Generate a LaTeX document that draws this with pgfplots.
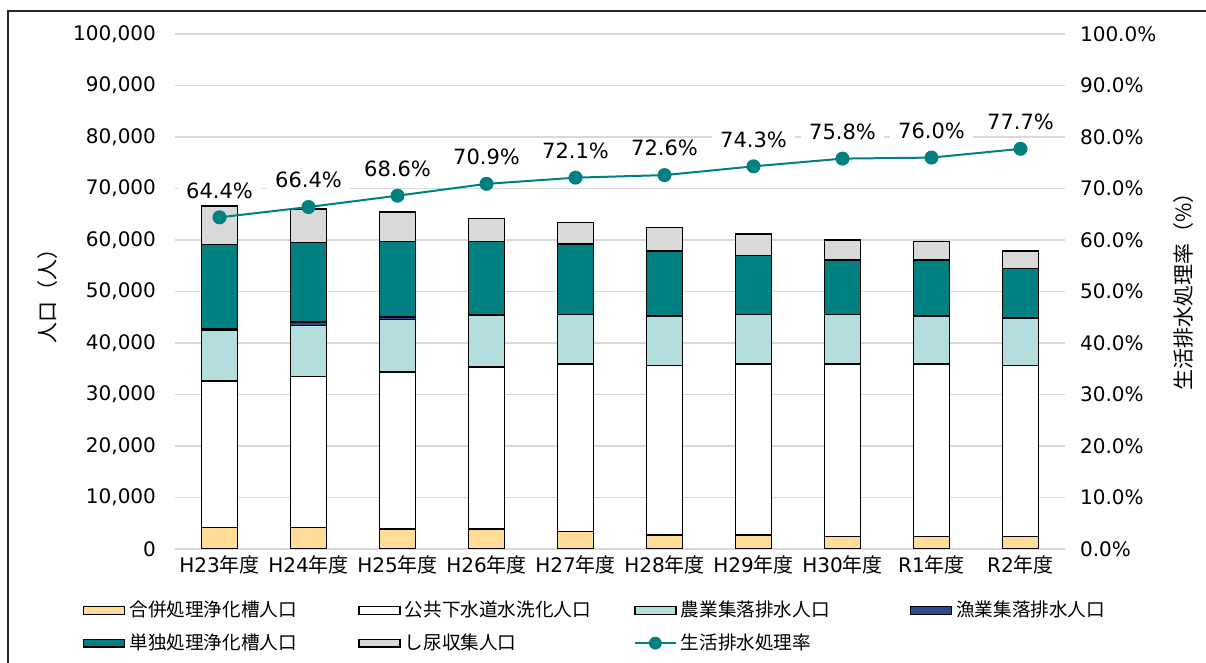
\documentclass[border=0pt]{standalone}
\usepackage{pgfplots}
\usepackage{pgfplotstable}
\pgfplotsset{compat=1.18}
\usepackage{fontspec}
\setmainfont{DejaVu Sans}
\newfontfamily\jp{Noto Sans CJK JP}
\definecolor{cGappei}{HTML}{FFDD99}
\definecolor{cNogyo}{HTML}{B4DEDD}
\definecolor{cGyogyo}{HTML}{2E4A8E}
\definecolor{cTandoku}{HTML}{008080}
\definecolor{cShinyo}{HTML}{D9D9D9}
\definecolor{cGrid}{HTML}{D9D9D9}
\pgfplotstableread{
x gappei kokyo nogyo gyogyo tandoku shinyo rate
0 4200 28400 9900 350 16300 7400 64.4
1 4200 29300 9900 700 15400 6500 66.4
2 3900 30500 10200 400 14700 5700 68.6
3 3900 31400 10100 0 14300 4500 70.9
4 3400 32500 9600 0 13700 4200 72.1
5 2700 32900 9600 0 12700 4500 72.6
6 2700 33200 9600 0 11500 4200 74.3
7 2400 33500 9600 0 10600 3900 75.8
8 2400 33500 9300 0 10900 3600 76.0
9 2400 33200 9300 0 9600 3400 77.7
}\datatable
\pgfplotsset{
  mybar/.style={fill=#1, draw=black, line width=0.8pt,
    legend image code/.code={\draw[fill=#1, draw=black, line width=0.7pt] (0pt,-1.9pt) rectangle (20.5pt,1.9pt);}},
}
\begin{document}
\begin{tikzpicture}
\useasboundingbox (-87.5pt,-57pt) rectangle (515.5pt,274.5pt);
\draw[black!85, line width=0.7pt] (-83.5pt,-70pt) -- (-83.5pt,269pt) -- (530pt,269pt);
\begin{axis}[
  at={(0pt,0pt)}, anchor=south west, scale only axis,
  width=445pt, height=257.5pt,
  xmin=-0.5, xmax=9.5, ymin=0, ymax=100000,
  ybar stacked, bar width=18pt,
  axis line style={draw=none}, tick style={draw=none},
  scaled y ticks=false,
  ytick={0,10000,20000,30000,40000,50000,60000,70000,80000,90000,100000}, ytick pos=left,
  yticklabels={0,{10,000},{20,000},{30,000},{40,000},{50,000},{60,000},{70,000},{80,000},{90,000},{100,000}},
  xtick={0,...,9}, xtick pos=bottom,
  xticklabels={H23{\jp 年度},H24{\jp 年度},H25{\jp 年度},H26{\jp 年度},H27{\jp 年度},H28{\jp 年度},H29{\jp 年度},H30{\jp 年度},R1{\jp 年度},R2{\jp 年度}},
  tick label style={font=\fontsize{10}{12}\selectfont},
  yticklabel style={xshift=-6pt},
  ymajorgrids, grid style={draw=cGrid, line width=0.75pt},
  ylabel={\jp 人口（人）},
  ylabel style={at={(axis description cs:-0.1427,0.5)}, anchor=center, font=\fontsize{10.5}{12}\selectfont},
  legend columns=4,
  legend cell align=left,
  legend style={at={(axis description cs:-0.1105,-0.085)}, anchor=north west, draw=none, fill=none,
    font=\fontsize{9.3}{11}\selectfont\jp, row sep=3pt,
    /tikz/every even column/.append style={column sep=0pt}},
]
\addplot[mybar=cGappei] table[x=x,y=gappei]{\datatable};
\addlegendentry{\makebox[112.5pt][l]{合併処理浄化槽人口}}
\addplot[mybar=white] table[x=x,y=kokyo]{\datatable};
\addlegendentry{\makebox[112.5pt][l]{公共下水道水洗化人口}}
\addplot[mybar=cNogyo] table[x=x,y=nogyo]{\datatable};
\addlegendentry{\makebox[112.5pt][l]{農業集落排水人口}}
\addplot[mybar=cGyogyo] table[x=x,y=gyogyo]{\datatable};
\addlegendentry{\makebox[112.5pt][l]{漁業集落排水人口}}
\addplot[mybar=cTandoku] table[x=x,y=tandoku]{\datatable};
\addlegendentry{\makebox[112.5pt][l]{単独処理浄化槽人口}}
\addplot[mybar=cShinyo] table[x=x,y=shinyo]{\datatable};
\addlegendentry{\makebox[112.5pt][l]{し尿収集人口}}
\addlegendimage{legend image code/.code={\draw[cTandoku, line width=1pt] (0pt,0pt) -- (20.5pt,0pt); \fill[cTandoku] (10.25pt,0pt) circle (3pt);}}
\addlegendentry{\makebox[112.5pt][l]{生活排水処理率}}
\end{axis}
\begin{axis}[
  at={(0pt,0pt)}, anchor=south west, scale only axis,
  width=445pt, height=257.5pt,
  xmin=-0.5, xmax=9.5, ymin=0, ymax=100,
  axis line style={draw=none}, tick style={draw=none},
  xtick=\empty,
  ytick={0,10,20,30,40,50,60,70,80,90,100}, ytick pos=right, yticklabel pos=right,
  yticklabels={0.0\%,10.0\%,20.0\%,30.0\%,40.0\%,50.0\%,60.0\%,70.0\%,80.0\%,90.0\%,100.0\%},
  tick label style={font=\fontsize{10}{12}\selectfont},
  yticklabel style={xshift=4pt},
  ylabel={\jp 生活排水処理率（\%）},
  ylabel style={at={(axis description cs:1.1326,0.51)}, anchor=center, font=\fontsize{10.5}{12}\selectfont},
  clip=false,
]
\addplot[color=cTandoku, line width=1pt, mark=*, mark size=3pt, mark options={fill=cTandoku, draw=cTandoku},
  point meta=explicit symbolic,
  nodes near coords,
  every node near coord/.append style={anchor=south, yshift=8pt, fill=white, inner xsep=4pt, inner ysep=1pt, text=black, font=\fontsize{10.5}{12}\selectfont}
] table[x=x,y=rate,meta=label]{
x rate label
0 64.4 64.4\%
1 66.4 66.4\%
2 68.6 68.6\%
3 70.9 70.9\%
4 72.1 72.1\%
5 72.6 72.6\%
6 74.3 74.3\%
7 75.8 75.8\%
8 76.0 76.0\%
9 77.7 77.7\%
};
\end{axis}
\end{tikzpicture}
\end{document}
